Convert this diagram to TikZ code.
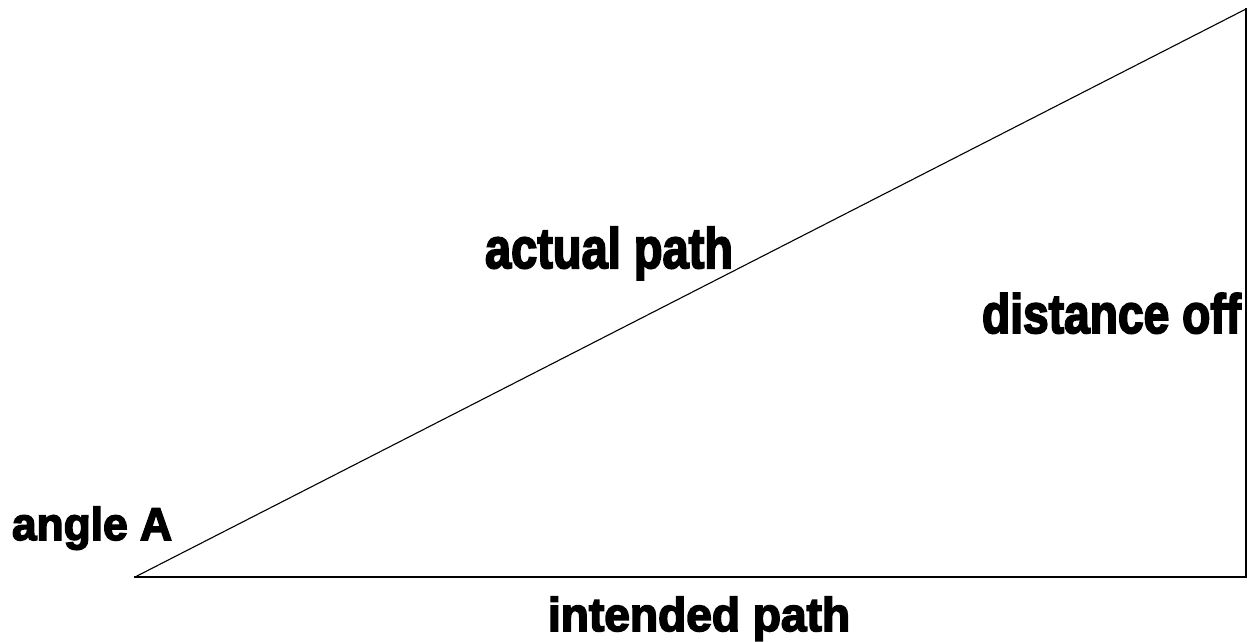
\documentclass[tikz,border=0pt]{standalone}
\usepackage{fontspec}
\setmainfont{Liberation Sans}[BoldFeatures={FakeBold=3.5}]
\usepackage{graphicx}
\tikzset{
  lbl/.style={inner sep=0pt, outer sep=0pt, anchor=base west, font=\bfseries},
  thick leg/.style={line width=2pt, black},
  thin leg/.style={line width=1.1pt, black}
}
\begin{document}
\begin{tikzpicture}[x=1pt,y=-1pt]
\useasboundingbox (0,0) rectangle (1252,641);
\coordinate (A) at (135,577);
\coordinate (B) at (1246,577);
\coordinate (C) at (1246,9);
\draw[thick leg, line cap=rect] (A) -- (B) -- (C);
\draw[thin leg] (A) -- (C);
\node[lbl] (angle) at (12,540) {\resizebox*{160pt}{43pt}{angle A}};
\node[lbl] (actual) at (485,268) {\resizebox*{248pt}{53pt}{actual path}};
\node[lbl] (dist) at (982,333) {\resizebox{259pt}{40pt}{distance off}};
\node[lbl] (intended) at (548,631) {\resizebox*{302pt}{44pt}{intended path}};
\end{tikzpicture}
\end{document}
